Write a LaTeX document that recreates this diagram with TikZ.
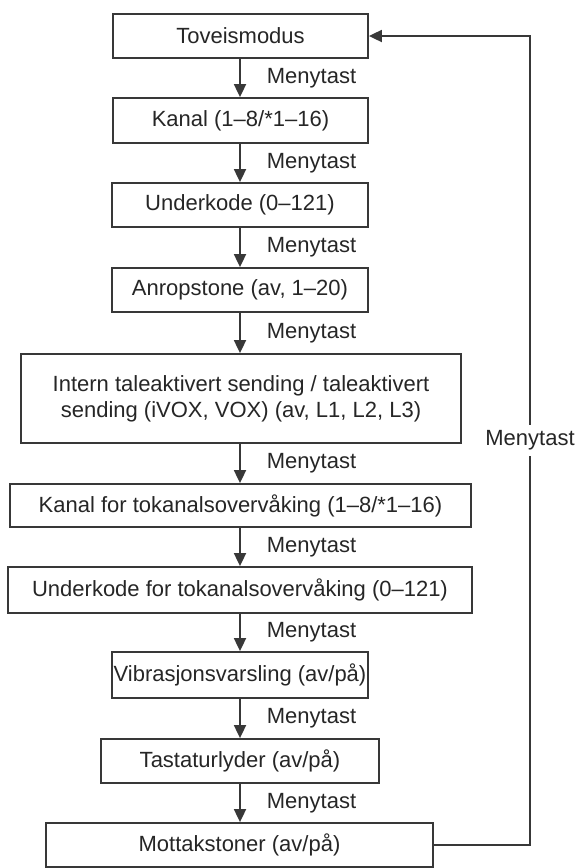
\documentclass[tikz,border=0pt]{standalone}
\usepackage{fontspec}
\setmainfont{Liberation Sans}
\usetikzlibrary{arrows.meta}
\begin{document}
\begin{tikzpicture}[x=1pt,y=1pt,
  every node/.style={font=\fontsize{22}{26}\selectfont, text=black!85},
  box/.style={draw=black!78, line width=1.8pt, rectangle, inner sep=0pt, align=center},
  arr/.style={draw=black!78, line width=1.8pt, -{Triangle[length=13pt,width=12pt]}},
  lbl/.style={right=26pt, midway, inner sep=0pt},
  fbl/.style={midway, fill=white, inner xsep=0pt, inner ysep=6pt}]
\useasboundingbox (0,0) rectangle (579,-868);
\fill[white] (0,0) rectangle (579,-868);
\node[box, minimum width=255, minimum height=44] (b1) at (240.5,-36) {Toveismodus};
\node[box, minimum width=255, minimum height=45] (b2) at (240.5,-120.5) {Kanal (1–8/*1–16)};
\node[box, minimum width=256, minimum height=44] (b3) at (240,-205) {Underkode (0–121)};
\node[box, minimum width=256, minimum height=44] (b4) at (240,-290) {Anropstone (av, 1–20)};
\node[box, minimum width=440, minimum height=89] (b5) at (241,-398.5) {Intern taleaktivert sending / taleaktivert\\sending (iVOX, VOX) (av, L1, L2, L3)};
\node[box, minimum width=461, minimum height=43] (b6) at (240.5,-505.5) {Kanal for tokanalsovervåking (1–8/*1–16)};
\node[box, minimum width=464, minimum height=46] (b7) at (240,-590) {Underkode for tokanalsovervåking (0–121)};
\node[box, minimum width=256, minimum height=46] (b8) at (240,-675) {Vibrasjonsvarsling (av/på)};
\node[box, minimum width=278, minimum height=44] (b9) at (240,-761) {Tastaturlyder (av/på)};
\node[box, minimum width=387, minimum height=44] (b10) at (239.5,-845) {Mottakstoner (av/på)};
\draw[arr] (b1.south -| 240,0) -- node[lbl]{Menytast} (b2.north -| 240,0);
\draw[arr] (b2.south -| 240,0) -- node[lbl]{Menytast} (b3.north -| 240,0);
\draw[arr] (b3.south -| 240,0) -- node[lbl]{Menytast} (b4.north -| 240,0);
\draw[arr] (b4.south -| 240,0) -- node[lbl]{Menytast} (b5.north -| 240,0);
\draw[arr] (b5.south -| 240,0) -- node[lbl]{Menytast} (b6.north -| 240,0);
\draw[arr] (b6.south -| 240,0) -- node[lbl]{Menytast} (b7.north -| 240,0);
\draw[arr] (b7.south -| 240,0) -- node[lbl]{Menytast} (b8.north -| 240,0);
\draw[arr] (b8.south -| 240,0) -- node[lbl]{Menytast} (b9.north -| 240,0);
\draw[arr] (b9.south -| 240,0) -- node[lbl]{Menytast} (b10.north -| 240,0);
\coordinate (c1) at (530,-845);
\coordinate (c2) at (530,-36);
\draw[arr] (b10.east) -- (c1) -- node[fbl]{Menytast} (c2) -- (b1.east);
\end{tikzpicture}
\end{document}
